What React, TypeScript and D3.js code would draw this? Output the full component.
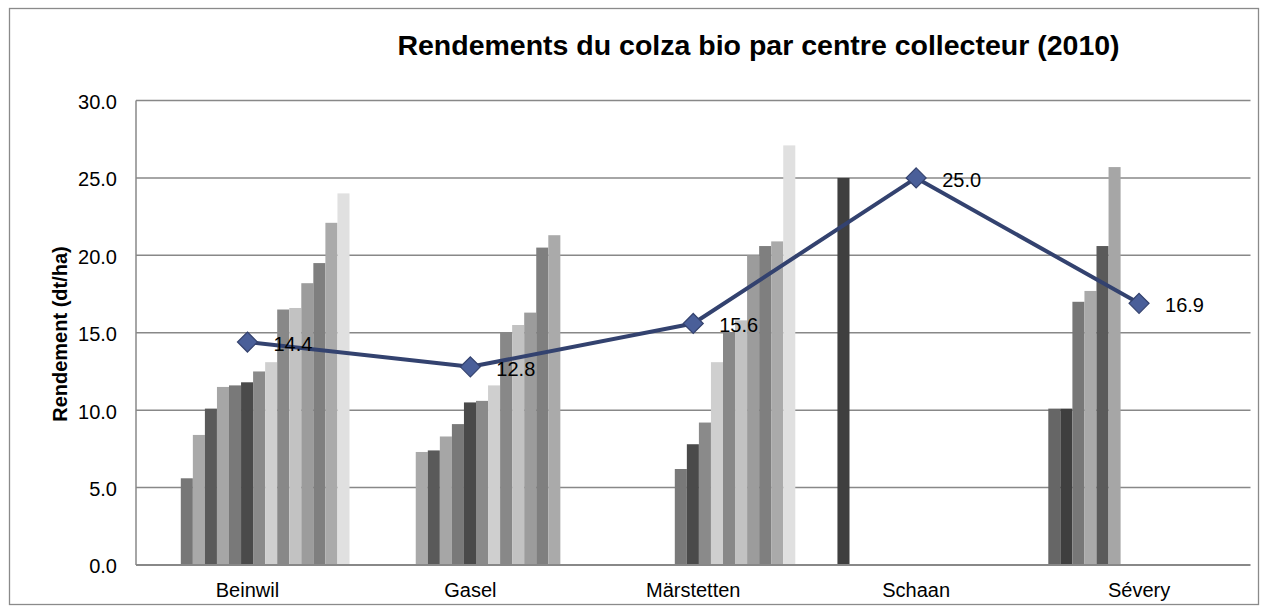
import React from 'react';
import * as d3 from 'd3';

// centres collecteurs
const centres = ['Beinwil', 'Gasel', 'Märstetten', 'Schaan', 'Sévery'];

// rendements par producteur (16 séries, null = pas de livraison)
const beinwil = [null, null, 5.6, 8.4, 10.1, 11.5, 11.6, 11.8, 12.5, 13.1, 16.5, 16.6, 18.2, 19.5, 22.1, 24.0];
const gasel = [null, null, null, 7.3, 7.4, 8.3, 9.1, 10.5, 10.6, 11.6, 15.0, 15.5, 16.3, 20.5, 21.3, null];
const marstetten = [null, null, null, null, null, null, 6.2, 7.8, 9.2, 13.1, 15.0, 15.8, 20.0, 20.6, 20.9, 27.1];
const schaan = [null, 25.0, null, null, null, null, null, null, null, null, null, null, null, null, null, null];
const severy = [10.1, 10.1, 17.0, 17.7, 20.6, 25.7, null, null, null, null, null, null, null, null, null, null];

// moyenne par centre
const moyennes = [14.4, 12.8, 15.6, 25.0, 16.9];

const yTicks = [0, 5, 10, 15, 20, 25, 30];

const seriesColors = [
  '#666666', '#3f3f3f', '#777777', '#a9a9a9', '#5a5a5a', '#a6a6a6', '#797979', '#4a4a4a',
  '#8a8a8a', '#cfcfcf', '#888888', '#c2c2c2', '#9c9c9c', '#7f7f7f', '#aaaaaa', '#e0e0e0',
];

const rows = [beinwil, gasel, marstetten, schaan, severy];

const W = 1268;
const H = 613;
const plot = { left: 136, right: 1250.5, top: 100.5, bottom: 565 };
const font = "'Liberation Sans', Arial, sans-serif";

export default function App() {
  const x0 = d3.scaleBand<string>().domain(centres).range([plot.left, plot.right]).padding(0);
  const slot = d3.scaleBand<number>()
    .domain(d3.range(seriesColors.length))
    .range([20.7, 20.7 + seriesColors.length * 12.05]);
  const y = d3.scaleLinear().domain([0, 30]).range([plot.bottom, plot.top]);

  const cx = (c: string) => (x0(c) as number) + x0.bandwidth() / 2;
  const line = d3.line<number>()
    .x((_, i) => cx(centres[i]))
    .y(d => y(d));

  return (
    <svg width={W} height={H} style={{ position: 'absolute', left: 0, top: 0, background: '#fff' }}
      fontFamily={font}>
      <rect x={9.5} y={8.5} width={1249} height={596} fill="#fff" stroke="#8a8a8a" strokeWidth={1.3} />

      <text x={758.5} y={55} textAnchor="middle" fontSize={28.5} fontWeight="bold" fill="#000">
        Rendements du colza bio par centre collecteur (2010)
      </text>

      {/* grille */}
      {yTicks.filter(t => t > 0).map(t => (
        <line key={t} x1={plot.left} x2={plot.right} y1={y(t)} y2={y(t)} stroke="#888888" strokeWidth={1.5} />
      ))}

      {/* barres */}
      {rows.map((vals, ci) => (
        <g key={centres[ci]}>
          {vals.map((v, si) => v == null ? null : (
            <rect key={si}
              x={(x0(centres[ci]) as number) + (slot(si) as number)}
              y={y(v)}
              width={slot.bandwidth()}
              height={y(0) - y(v)}
              fill={seriesColors[si]} />
          ))}
        </g>
      ))}

      {/* axes */}
      <line x1={plot.left} x2={plot.left} y1={plot.top} y2={plot.bottom} stroke="#888888" strokeWidth={1.5} />
      <line x1={plot.left} x2={plot.right} y1={plot.bottom} y2={plot.bottom} stroke="#888888" strokeWidth={2} />

      {yTicks.map(t => (
        <text key={t} x={117} y={y(t)} dy="0.42em" textAnchor="end" fontSize={20} fill="#000">
          {t.toFixed(1)}
        </text>
      ))}
      {centres.map(c => (
        <text key={c} x={cx(c)} y={597} textAnchor="middle" fontSize={20} fill="#000">{c}</text>
      ))}

      <text transform={`translate(67,334) rotate(-90)`} textAnchor="middle" fontSize={20} fontWeight="bold" fill="#000">
        Rendement (dt/ha)
      </text>

      {/* moyenne */}
      <path d={line(moyennes) as string} fill="none" stroke="#33426f" strokeWidth={4} strokeLinejoin="round" />
      {moyennes.map((m, i) => {
        const px = cx(centres[i]);
        const py = y(m);
        return (
          <g key={i}>
            <path d={`M${px},${py - 10}L${px + 10},${py}L${px},${py + 10}L${px - 10},${py}Z`}
              fill="#4a5f99" stroke="#34426e" strokeWidth={1.2} />
            <text x={px + 26} y={py + 9} fontSize={20} fill="#000">{m.toFixed(1)}</text>
          </g>
        );
      })}
    </svg>
  );
}
